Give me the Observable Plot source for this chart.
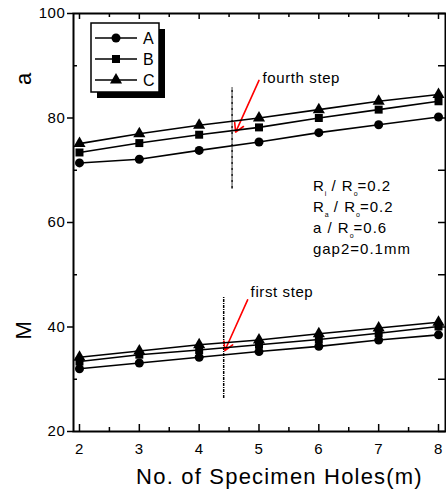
<!DOCTYPE html>
<html><head><meta charset="utf-8">
<script src="https://cdn.jsdelivr.net/npm/d3@7"></script>
<script src="https://cdn.jsdelivr.net/npm/@observablehq/plot@0.6"></script>
<style>
body{margin:0;background:#fff;}
svg{font-family:"Liberation Sans",Arial,sans-serif;}
</style>
</head><body><div id="chart"></div>
<script>
// ---- data ----
const holes = [2, 3, 4, 5, 6, 7, 8];
const seriesNames = ["A", "B", "C"];
const seriesSymbols = ["circle", "square", "triangle"];
const upperA = [71.4, 72.1, 73.8, 75.4, 77.2, 78.7, 80.2];
const upperB = [73.4, 75.2, 76.8, 78.2, 80.0, 81.6, 83.2];
const upperC = [75.1, 77.0, 78.6, 80.0, 81.6, 83.2, 84.5];
const lowerA = [32.0, 33.1, 34.2, 35.3, 36.3, 37.5, 38.5];
const lowerB = [33.4, 34.7, 35.6, 36.6, 37.6, 38.8, 40.1];
const lowerC = [34.2, 35.4, 36.6, 37.5, 38.7, 39.8, 40.9];
const xTicks = [2, 3, 4, 5, 6, 7, 8];
const xMinorTicks = [2.5, 3.5, 4.5, 5.5, 6.5, 7.5];
const yTicks = [20, 40, 60, 80, 100];
const yMinorTicks = [30, 50, 70, 90];
const xTitle = "No. of Specimen Holes(m)";
const yLabels = ["a", "M"];
const yLabelValues = [86.3, 37.6];
const stepLabels = ["fourth step", "first step"];
const stepX = [4.55, 4.41];
const stepY1 = [66.4, 26.3];
const stepY2 = [85.9, 45.7];
const stepTextX = [5.06, 4.86];
const stepTextY = [87.7, 46.7];
const arrowX1 = [5.0, 4.81];
const arrowY1 = [87.2, 45.2];
const arrowX2 = [4.61, 4.43];
const arrowY2 = [77.3, 35.5];
const paramX = 5.91;
const paramY = [66.0, 61.85, 57.8, 53.8];

// ---- build tables ----
const groups = [
  {g: "upper", vals: [upperA, upperB, upperC]},
  {g: "lower", vals: [lowerA, lowerB, lowerC]}
];
const rows = [];
groups.forEach(({g, vals}) => vals.forEach((arr, si) => arr.forEach((v, i) =>
  rows.push({key: g + seriesNames[si], series: seriesNames[si], x: holes[i], y: v}))));
const steps = stepLabels.map((t, i) => ({t, x: stepX[i], y1: stepY1[i], y2: stepY2[i],
  tx: stepTextX[i], ty: stepTextY[i], ax1: arrowX1[i], ay1: arrowY1[i], ax2: arrowX2[i], ay2: arrowY2[i]}));
const ylab = yLabels.map((t, i) => ({t, y: yLabelValues[i]}));

const W = 446, H = 491, mt = 13, mb = 60, ml = 73, mr = 1;
const FH = H - mt - mb, FW = W - ml - mr;
const tk = {stroke: "black", strokeWidth: 1.5};

const plot = Plot.plot({
  width: W, height: H,
  marginTop: mt, marginBottom: mb, marginLeft: ml, marginRight: mr,
  x: {domain: [1.9, 8.117], label: null},
  y: {domain: [20, 100], label: null},
  symbol: {domain: seriesNames, range: seriesSymbols},
  style: {fontFamily: "Liberation Sans, Arial, sans-serif", color: "black"},
  marks: [
    Plot.axisX(xTicks, {tickSize: 0, tickPadding: 12, fontSize: 15, label: null}),
    Plot.axisY(yTicks, {tickSize: 6, tickPadding: 2, fontSize: 15, label: null, strokeWidth: 1.5}),
    // inward ticks
    Plot.tickX(xTicks, {x: d => d, insetTop: FH - 7, ...tk}),
    Plot.tickX(xMinorTicks, {x: d => d, insetTop: FH - 4, ...tk}),
    Plot.tickX(xTicks, {x: d => d, insetBottom: FH - 6, ...tk}),
    Plot.tickX(xMinorTicks, {x: d => d, insetBottom: FH - 4, ...tk}),
    Plot.tickY(yMinorTicks, {y: d => d, insetRight: FW - 4, ...tk}),
    Plot.tickY(yTicks.concat(yMinorTicks), {y: d => d, insetLeft: FW - 7, ...tk}),
    Plot.frame({stroke: "black", strokeWidth: 2}),
    // step markers
    Plot.ruleX(steps, {x: "x", y1: "y1", y2: "y2", stroke: "black", strokeWidth: 1.5, strokeDasharray: "3,1,1,1"}),
    Plot.arrow(steps, {x1: "ax1", y1: "ay1", x2: "ax2", y2: "ay2", stroke: "red", strokeWidth: 1.6, headLength: 9}),
    Plot.text(steps, {x: "tx", y: "ty", text: "t", textAnchor: "start", fontSize: 15, fill: "black"}),
    // series
    Plot.line(rows, {x: "x", y: "y", z: "key", stroke: "black", strokeWidth: 1.6}),
    Plot.dot(rows, {x: "x", y: "y", symbol: "series", fill: "black", stroke: "none", r: 4.5}),
    // titles
    Plot.text([xTitle], {text: d => d, frameAnchor: "bottom", dx: 20, dy: 52, fontSize: 22, fill: "black"}),
    Plot.text(ylab, {text: "t", y: "y", frameAnchor: "left", dx: -50, rotate: -90, fontSize: 22, fill: "black"})
  ]
});
document.getElementById("chart").appendChild(plot);

const svg = d3.select(plot);
svg.selectAll("text").style("letter-spacing", "0.6px");
svg.selectAll("text").filter(function(){return this.textContent===xTitle;}).style("letter-spacing","1.2px");

// parameter block with subscripts
const sx = plot.scale("x"), sy = plot.scale("y");
const px = sx.apply(paramX);
const params = [
  [["R", 0], ["i", 1], [" / R", -1], ["o", 1], ["=0.2", -1]],
  [["R", 0], ["a", 1], [" / R", -1], ["o", 1], ["=0.2", -1]],
  [["a / R", 0], ["o", 1], ["=0.6", -1]],
  [["gap2=0.1mm", 0]]
];
const pg = svg.append("g").attr("font-size", 15).attr("fill", "black").attr("text-anchor", "start").style("letter-spacing", "1px");
params.forEach((parts, i) => {
  const t = pg.append("text").attr("x", px).attr("y", sy.apply(paramY[i]));
  parts.forEach(([s, sub]) => {
    const ts = t.append("tspan").text(s);
    if (sub === 1) ts.attr("font-size", 7).attr("dy", 5).style("letter-spacing", "0px");
    else if (sub === -1) ts.attr("dy", -5);
  });
});

// legend (inside plot, top-left)
const lg = svg.append("g").attr("text-anchor", "start");
lg.append("rect").attr("x", 97).attr("y", 29).attr("width", 68).attr("height", 69).attr("fill", "black");
lg.append("rect").attr("x", 91).attr("y", 23).attr("width", 68).attr("height", 69).attr("fill", "white").attr("stroke", "black").attr("stroke-width", 1.5);
const symMap = {circle: d3.symbolCircle, square: d3.symbolSquare, triangle: d3.symbolTriangle};
seriesNames.forEach((n, i) => {
  const yy = 38 + i * 21;
  lg.append("line").attr("x1", 95).attr("x2", 137).attr("y1", yy).attr("y2", yy).attr("stroke", "black").attr("stroke-width", 1.5);
  lg.append("path").attr("d", d3.symbol(symMap[seriesSymbols[i]], Math.PI * 4.5 * 4.5)()).attr("transform", `translate(116,${yy})`).attr("fill", "black");
  lg.append("text").attr("x", 143).attr("y", yy).attr("dy", "0.35em").attr("font-size", 16).attr("fill", "black").text(n);
});
</script>
</body></html>
